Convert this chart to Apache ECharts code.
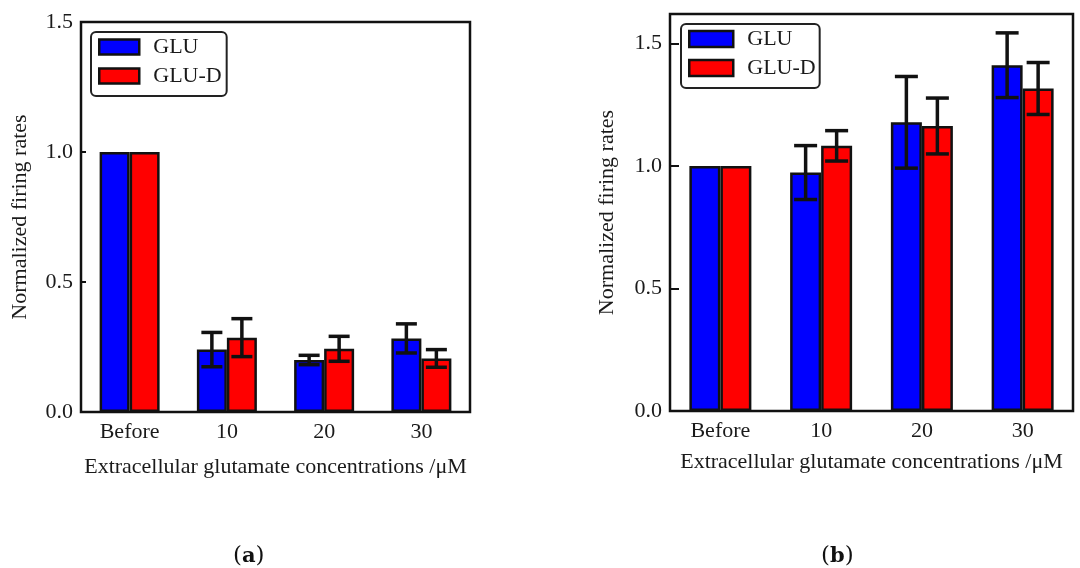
<!DOCTYPE html>
<html>
<head>
<meta charset="utf-8">
<script src="https://cdn.jsdelivr.net/npm/echarts@6/dist/echarts.min.js"></script>
<style>
html,body{margin:0;padding:0;background:#fff;}
#c{width:1080px;height:568px;}
</style>
</head>
<body>
<div id="c"></div>
<script>
// ---- data ----
const categories = ['Before', '10', '20', '30'];
const seriesNames = ['GLU', 'GLU-D'];
// panel (a)
const gluA = [1.0, 0.240, 0.200, 0.283];
const gluErrA = [0, 0.066, 0.018, 0.056];
const gluDA = [1.0, 0.286, 0.243, 0.206];
const gluDErrA = [0, 0.073, 0.048, 0.034];
// panel (b)
const gluB = [1.0, 0.973, 1.178, 1.411];
const gluErrB = [0, 0.110, 0.187, 0.132];
const gluDB = [1.0, 1.082, 1.163, 1.316];
const gluDErrB = [0, 0.062, 0.114, 0.106];
const yTicks = [0.0, 0.5, 1.0, 1.5];
const xAxisTitle = 'Extracellular glutamate concentrations /\u03bcM';
const yAxisTitle = 'Normalized firing rates';
const panelLabels = ['a', 'b'];

// ---- chart ----
const FONT = 'Liberation Serif';
const TXT = '#1a1a1a';
const FS = 22;
const chart = echarts.init(document.getElementById('c'), null, {renderer: 'canvas'});

function yFmt(v) {
  for (const t of yTicks) if (Math.abs(v - t) < 1e-6) return t.toFixed(1);
  return '';
}

function errSeries(name, vals, errs, gridIdx, sign, barW, capW) {
  return {
    type: 'custom',
    name: name + '_err',
    xAxisIndex: gridIdx, yAxisIndex: gridIdx,
    z: 10,
    silent: true,
    data: vals.map((v, i) => [i, v, errs[i]]),
    renderItem: function (params, api) {
      const e = api.value(2);
      if (!e) return null;
      const v = api.value(1);
      const top = api.coord([api.value(0), v + e]);
      const bot = api.coord([api.value(0), v - e]);
      const x = top[0] + sign * barW / 2;
      const st = {stroke: '#111', lineWidth: 3.5};
      return {
        type: 'group',
        children: [
          {type: 'line', shape: {x1: x, y1: top[1], x2: x, y2: bot[1]}, style: st},
          {type: 'line', shape: {x1: x - capW / 2, y1: top[1], x2: x + capW / 2, y2: top[1]}, style: st},
          {type: 'line', shape: {x1: x - capW / 2, y1: bot[1], x2: x + capW / 2, y2: bot[1]}, style: st}
        ]
      };
    }
  };
}

function barSeries(name, vals, gridIdx, color, barW) {
  return {
    type: 'bar',
    name: name,
    xAxisIndex: gridIdx, yAxisIndex: gridIdx,
    data: vals,
    barWidth: barW,
    barGap: '0%',
    itemStyle: {color: color, borderColor: '#111', borderWidth: 2.5},
    z: 3
  };
}

const grids = [
  {left: 81, top: 22, width: 389, height: 390},
  {left: 670, top: 14, width: 403, height: 397}
];

function xAx(gi) {
  return {
    type: 'category', gridIndex: gi, data: categories,
    axisLine: {show: false}, axisTick: {show: false},
    axisLabel: {color: TXT, fontFamily: FONT, fontSize: FS, margin: 9},
    name: xAxisTitle, nameLocation: 'middle', nameGap: gi === 0 ? 44 : 40,
    nameTextStyle: {color: TXT, fontFamily: FONT, fontSize: FS}
  };
}
function yAx(gi, max, tickLen, gap) {
  return {
    type: 'value', gridIndex: gi, min: 0, max: max, interval: 0.5,
    splitLine: {show: false},
    axisLine: {show: false},
    axisTick: {show: true, inside: true, length: tickLen, lineStyle: {color: '#111', width: 2}},
    axisLabel: {color: TXT, fontFamily: FONT, fontSize: FS, margin: 8, formatter: yFmt, showMaxLabel: gi === 0},
    name: yAxisTitle, nameLocation: 'middle', nameGap: gap,
    nameTextStyle: {color: TXT, fontFamily: FONT, fontSize: FS}
  };
}

function legend(gi, left, top, w, h, pad) {
  return {
    show: true,
    data: seriesNames.map(n => ({name: n, icon: 'rect'})),
    orient: 'vertical',
    left: left, top: top,
    itemWidth: w, itemHeight: h, itemGap: 7,
    padding: pad,
    borderColor: '#222', borderWidth: 2, borderRadius: 5,
    backgroundColor: '#fff',
    textStyle: {color: TXT, fontFamily: FONT, fontSize: FS, padding: [0, 0, 0, 9]},
    itemStyle: {borderColor: '#111', borderWidth: 2.5},
    selectedMode: false,
    id: 'lg' + gi
  };
}

const option = {
  backgroundColor: '#fff',
  animation: false,
  grid: grids.map(g => Object.assign({show: true, borderColor: '#111', borderWidth: 2.5, backgroundColor: 'transparent', containLabel: false}, g)),
  xAxis: [xAx(0), xAx(1)],
  yAxis: [yAx(0, 1.5, 5, 50), yAx(1, 1.62, 9, 52)],
  legend: [legend(0, 91, 32, 40, 15, [4, 5, 9, 7]), legend(1, 681, 24, 44, 16, [4, 4, 9, 7])],
  series: [
    barSeries(seriesNames[0], gluA, 0, '#0000ff', 30),
    barSeries(seriesNames[1], gluDA, 0, '#ff0000', 30),
    errSeries(seriesNames[0], gluA, gluErrA, 0, -1, 30, 21),
    errSeries(seriesNames[1], gluDA, gluDErrA, 0, 1, 30, 21),
    barSeries(seriesNames[0], gluB, 1, '#0000ff', 31),
    barSeries(seriesNames[1], gluDB, 1, '#ff0000', 31),
    errSeries(seriesNames[0], gluB, gluErrB, 1, -1, 31, 23),
    errSeries(seriesNames[1], gluDB, gluDErrB, 1, 1, 31, 23)
  ],
  graphic: [
    {type: 'text', left: 233, top: 545, style: {text: '(' + '{b|' + panelLabels[0] + '})', rich: {b: {fontWeight: 'bold', fontFamily: 'DejaVu Serif', fontSize: 21, fill: '#111'}}, fontFamily: 'DejaVu Serif', fontSize: 23, fill: '#111'}},
    {type: 'text', left: 821, top: 545, style: {text: '(' + '{b|' + panelLabels[1] + '})', rich: {b: {fontWeight: 'bold', fontFamily: 'DejaVu Serif', fontSize: 21, fill: '#111'}}, fontFamily: 'DejaVu Serif', fontSize: 23, fill: '#111'}}
  ]
};
chart.setOption(option);
</script>
</body>
</html>
